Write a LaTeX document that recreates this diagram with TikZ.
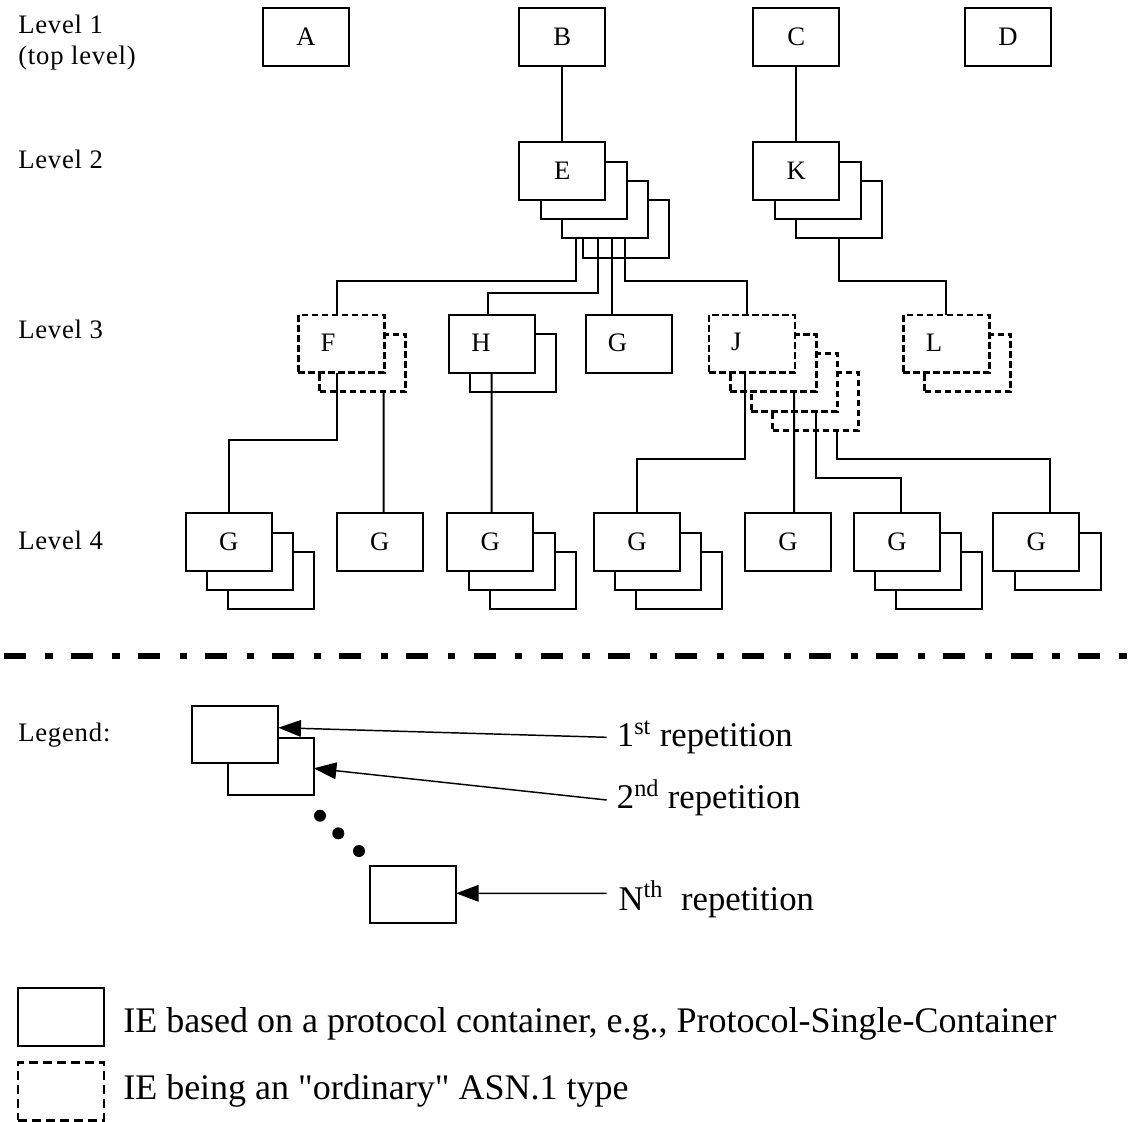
\documentclass[tikz,border=0pt]{standalone}
\usepackage{fontspec}
\setmainfont{Liberation Serif}
\newfontfamily\lvlfont[LetterSpace=3]{Liberation Serif}
\usetikzlibrary{arrows.meta,calc}

% straight double quote, bypassing the TeX ligature mapping
\newcommand\sqt{\XeTeXglyph\XeTeXcharglyph"22\relax}

% #1 name, #2 x, #3 y (top-left of front box, px), #4 number of boxes, #5 style
\newcommand\boxstack[5]{%
  \foreach \i in {#4,...,1}{%
    \node[#5] (#1\i) at ({#2+(\i-1)*21.2},{#3+(\i-1)*19.2}) {};
  }%
}

\begin{document}
\begin{tikzpicture}[x=0.75pt,y=-0.75pt,
  ibox/.style={draw, line width=1.5pt, fill=white, minimum width=64.5pt,
    minimum height=43.3pt, inner sep=0pt, outer sep=0pt, anchor=north west},
  dbox/.style={ibox, line width=2.2pt, dash pattern=on 4.9pt off 2.6pt},
  lbox/.style={ibox, line width=2.1pt, dash pattern=on 6.75pt off 3.75pt},
  conn/.style={line width=1.5pt},
  lbl/.style={font=\fontsize{20pt}{23pt}\selectfont, inner sep=0pt},
  lvl/.style={font=\lvlfont\fontsize{20pt}{23pt}\selectfont, anchor=base west, inner sep=0pt},
  rep/.style={font=\fontsize{26pt}{30pt}\selectfont, anchor=base west, inner sep=0pt},
  big/.style={font=\fontsize{27pt}{31pt}\selectfont, anchor=base west, inner sep=0pt},
  dot/.style={circle, fill=black, inner sep=0pt, minimum size=9pt},
  arr/.style={line width=1.1pt, -{Triangle[length=17pt,width=12.5pt]}},
  sep/.style={line width=4.5pt, dash pattern=on 16.5pt off 14.8pt on 5.4pt off 13.65pt}
]
\fill[white] (0,0) rectangle (1142,1121);
\useasboundingbox (0,0) rectangle (1142,1121);

% level labels
\node[lvl] (lv1) at (18,33.3) {Level 1};
\node[lvl] (lv1b) at (18,64) {(top level)};
\node[lvl] (lv2) at (18,168.3) {Level 2};
\node[lvl] (lv3) at (18,338) {Level 3};
\node[lvl] (lv4) at (18,549) {Level 4};

% boxes
\boxstack{A}{263}{8}{1}{ibox}
\boxstack{B}{519.3}{8}{1}{ibox}
\boxstack{C}{753.3}{8}{1}{ibox}
\boxstack{D}{965}{8}{1}{ibox}
\boxstack{E}{519.3}{142.3}{4}{ibox}
\boxstack{K}{753.3}{142.3}{3}{ibox}
\boxstack{F}{298.3}{315}{2}{dbox}
\boxstack{H}{449}{315}{2}{ibox}
\boxstack{Gt}{585.7}{315}{1}{ibox}
\boxstack{J}{709}{315}{4}{dbox}
\boxstack{L}{903.3}{315}{2}{dbox}
\boxstack{Ga}{185.7}{513.3}{3}{ibox}
\boxstack{Gb}{336.7}{513.3}{1}{ibox}
\boxstack{Gc}{447.3}{513.3}{3}{ibox}
\boxstack{Gd}{594}{513.3}{3}{ibox}
\boxstack{Ge}{745}{513.3}{1}{ibox}
\boxstack{Gf}{854}{513.3}{3}{ibox}
\boxstack{Gg}{993.3}{513.3}{2}{ibox}

% box labels
\node[lbl] (Alab) at (A1) {A};
\node[lbl] (Blab) at (B1) {B};
\node[lbl] (Clab) at (C1) {C};
\node[lbl] (Dlab) at (D1) {D};
\node[lbl] (Elab) at (E1) {E};
\node[lbl] (Klab) at (K1) {K};
\node[lbl] (Flab) at ($(F1.center)+(-13.3,-1.5)$) {F};
\node[lbl] (Hlab) at ($(H1.center)+(-11,-1.5)$) {H};
\node[lbl] (Gtlab) at ($(Gt1.center)+(-11.2,-1.5)$) {G};
\node[lbl] (Jlab) at ($(J1.center)+(-15.7,-1.5)$) {J};
\node[lbl] (Llab) at ($(L1.center)+(-12.3,-1.5)$) {L};
\node[lbl] (Galab) at (Ga1) {G};
\node[lbl] (Gblab) at (Gb1) {G};
\node[lbl] (Gclab) at (Gc1) {G};
\node[lbl] (Gdlab) at (Gd1) {G};
\node[lbl] (Gelab) at (Ge1) {G};
\node[lbl] (Gflab) at (Gf1) {G};
\node[lbl] (Gglab) at (Gg1) {G};

% connectors
\draw[conn] (B1.south) -- (E1.north);
\draw[conn] (C1.south) -- (K1.north);
\draw[conn] ($(E3.south west)+(14,0)$) -- ++(0,42.3) -| ($(F1.north west)+(38.4,0)$);
\draw[conn] ($(E3.south west)+(36.6,0)$) -- ++(0,54.9) -| ($(H1.north west)+(39.3,0)$);
\draw[conn] ($(E3.south west)+(50,0)$) -- ($(Gt1.north west)+(26,0)$);
\draw[conn] ($(E3.south west)+(63.3,0)$) -- ++(0,42.3) -| ($(J1.north west)+(37.7,0)$);
\draw[conn] ($(K3.south west)+(43,0)$) -- ++(0,42.3) -| ($(L1.north west)+(42.7,0)$);
\draw[conn] ($(F1.south west)+(38.4,0)$) -- ++(0,67) -| (Ga1.north);
\draw[conn] ($(F2.south west)+(64,0)$) -- ($(Gb1.north west)+(46.8,0)$);
\draw[conn] ($(H1.south west)+(42.7,0)$) -- ($(Gc1.north west)+(44.4,0)$);
\draw[conn] ($(J1.south west)+(36,0)$) -- ++(0,86.3) -| ($(Gd1.north west)+(42.7,0)$);
\draw[conn] ($(J2.south west)+(63.8,0)$) -- ($(Ge1.north west)+(49,0)$);
\draw[conn] ($(J3.south west)+(64.3,0)$) -- ++(0,67.2) -| ($(Gf1.north west)+(46.7,0)$);
\draw[conn] ($(J4.south west)+(64,0)$) -- ++(0,28.7) -| ($(Gg1.north west)+(56.7,0)$);

% separator
\coordinate (sepL) at (3.6,655.7);
\coordinate (sepR) at (1142,655.7);
\draw[sep] (sepL) -- (sepR);

% legend
\node[lvl] (leg) at (18,741.7) {Legend:};
\node[ibox] (R2) at (227.7,737.7) {};
\node[ibox] (R1) at (192.3,705.7) {};
\node[dot] (d1) at (320,815.7) {};
\node[dot] (d2) at (338.3,833.3) {};
\node[dot] (d3) at (359,851) {};
\node[ibox] (RN) at (370,865.7) {};
\node[rep] (t1) at (616.7,746.7) {1\textsuperscript{st} repetition};
\node[rep] (t2) at (616.7,808.3) {2\textsuperscript{nd} repetition};
\node[rep] (tN) at (618.3,910) {N\textsuperscript{th}\hspace{7pt} repetition};
\draw[arr] ($(t1.base west)+(-10,-9.4)$) -- ($(R1.north east)+(0,22)$);
\draw[arr] ($(t2.base west)+(-10,-8.3)$) -- ($(R2.north east)+(0,30.6)$);
\draw[arr] ($(tN.base west)+(-11.6,-16.7)$) -- ($(RN.north east)+(0,27.6)$);

\node[ibox] (S) at (18,988.3) {};
\node[lbox] (Dd) at (18,1062.7) {};
\node[big] (s1) at (123,1032) {IE based on a protocol container, e.g., Protocol-Single-Container};
\node[big] (s2) at (123,1099) {IE being an \sqt ordinary\sqt{} ASN.1 type};
\end{tikzpicture}
\end{document}
